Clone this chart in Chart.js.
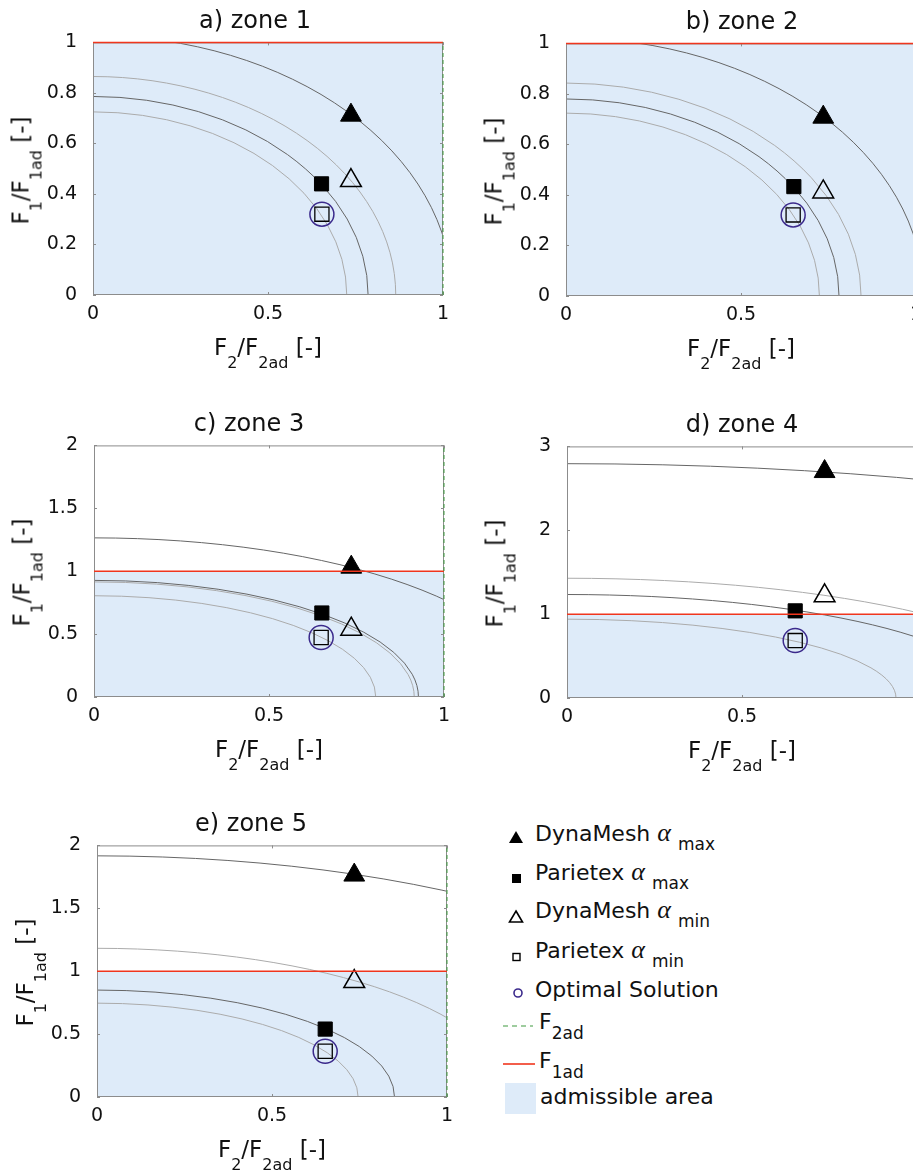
<!DOCTYPE html>
<html>
<head>
<meta charset="utf-8">
<script src="https://cdn.jsdelivr.net/npm/chart.js@4.4.0/dist/chart.umd.min.js"></script>
<style>
  html, body { margin: 0; padding: 0; background: #fff; }
  body { width: 913px; height: 1176px; overflow: hidden; position: relative;
         font-family: 'DejaVu Sans', sans-serif; color: #111; }
  canvas { position: absolute; }
  .title { position: absolute; width: 240px; font-size: 24px; line-height: 24px; text-align: center; white-space: nowrap; }
  .xlab { position: absolute; font-size: 23px; line-height: 23px; text-align: center; white-space: nowrap; }
  .ylab { position: absolute; width: 240px; font-size: 23px; line-height: 23px; text-align: center; white-space: nowrap;
          transform: rotate(-90deg); }
  .sb { position: relative; top: 13px; font-size: 16px; }
  .lrow { position: absolute; font-size: 22px; line-height: 22px; white-space: nowrap; }
  .lsb { position: relative; top: 9px; font-size: 17px; }
  .lsb2 { position: relative; top: 10px; font-size: 17px; }
  .alpha { font-family: 'Liberation Serif', serif; font-style: italic; font-size: 26px; }
  svg { position: absolute; left: 0; top: 0; }
</style>
</head>
<body>
<script>
// ---- data ----
const zoneTitles = ['a) zone 1', 'b) zone 2', 'c) zone 3', 'd) zone 4', 'e) zone 5'];
const yMaxes = [1, 1, 2, 3, 2];
const yTickSteps = [0.2, 0.2, 0.5, 1, 0.5];
const xTickStep = 0.5;

// F2/F2ad (x) and F1/F1ad (y) of each solution, per zone
const dynaMaxX = [0.737, 0.735, 0.735, 0.736, 0.735];
const dynaMaxY = [0.712, 0.708, 1.032, 2.700, 1.764];
const parMaxX  = [0.653, 0.651, 0.651, 0.652, 0.652];
const parMaxY  = [0.440, 0.433, 0.668, 1.039, 0.540];
const dynaMinX = [0.737, 0.735, 0.735, 0.736, 0.735];
const dynaMinY = [0.453, 0.412, 0.539, 1.219, 0.918];
const parMinX  = [0.654, 0.649, 0.649, 0.652, 0.652];
const parMinY  = [0.320, 0.321, 0.473, 0.685, 0.364];
const optX     = [0.654, 0.649, 0.649, 0.652, 0.652];
const optY     = [0.320, 0.321, 0.473, 0.685, 0.364];

// radius of the iso-curve through each solution
const arcDynaMax = [1.027, 1.022, 1.265, 2.794, 1.917];
const arcParMax  = [0.786, 0.780, 0.927, 1.234, 0.850];
const arcDynaMin = [0.865, 0.843, 0.915, 1.428, 1.182];
const arcParMin  = [0.725, 0.724, 0.805, 0.940, 0.746];

// admissible limits
const f1ad = 1;
const f2ad = 1;

// ---- layout (plot area of each subplot, page pixels) ----
const panels = [
  { L: 93,  T: 37,  R: 443, B: 295,  titleX: 255 },
  { L: 566, T: 38,  R: 916, B: 296,  titleX: 742 },
  { L: 94,  T: 440, R: 444, B: 697,  titleX: 249 },
  { L: 567, T: 441, R: 917, B: 698,  titleX: 742 },
  { L: 97,  T: 840, R: 447, B: 1097, titleX: 251 },
];
const YW = 70, XH = 44, PT = 14, PR = 16;

const colors = {
  fill: '#deebf9', red: '#f0361e', green: '#3f9a3f', optimal: '#3b2a8c',
  dark: '#666666', light: '#ababab', axis: '#8c8c8c', text: '#111'
};

// plain tick numbers: 0, 0.5, 1 (no trailing zeros)
const tickText = v => String(Number(v.toFixed(3)));

// iso-curves, axes box and inward ticks
const isoCurves = {
  id: 'isoCurves',
  beforeDatasetsDraw(chart, args, opts) {
    const { ctx, chartArea: a, scales: { x, y } } = chart;
    const x0 = x.getPixelForValue(0), y0 = y.getPixelForValue(0);
    ctx.save();
    ctx.beginPath();
    ctx.rect(a.left, a.top, a.right - a.left, a.bottom - a.top);
    ctx.clip();
    ctx.lineWidth = 1;
    opts.curves.forEach(c => {
      const rx = x.getPixelForValue(c.r) - x0;
      const ry = y0 - y.getPixelForValue(c.r);
      ctx.strokeStyle = c.color;
      ctx.beginPath();
      ctx.ellipse(x0, y0, rx, ry, 0, -Math.PI / 2, 0);
      ctx.stroke();
    });
    ctx.restore();

    ctx.save();
    ctx.strokeStyle = colors.axis;
    ctx.lineWidth = 1;
    ctx.strokeRect(a.left + 0.5, a.top + 0.5, a.right - a.left - 1, a.bottom - a.top - 1);
    const tl = 3;
    ctx.beginPath();
    x.ticks.forEach(t => {
      const px = Math.round(x.getPixelForValue(t.value)) + 0.5;
      ctx.moveTo(px, a.bottom); ctx.lineTo(px, a.bottom - tl);
      ctx.moveTo(px, a.top); ctx.lineTo(px, a.top + tl);
    });
    y.ticks.forEach(t => {
      const py = Math.round(y.getPixelForValue(t.value)) + 0.5;
      ctx.moveTo(a.left, py); ctx.lineTo(a.left + tl, py);
      ctx.moveTo(a.right, py); ctx.lineTo(a.right - tl, py);
    });
    ctx.stroke();
    ctx.restore();
  }
};

function addDiv(cls, html, style) {
  const d = document.createElement('div');
  d.className = cls;
  d.innerHTML = html;
  Object.assign(d.style, style);
  document.body.appendChild(d);
  return d;
}

function drawZone(i) {
  const p = panels[i];
  const w = p.R - p.L, h = p.B - p.T;
  const canvas = document.createElement('canvas');
  canvas.width = w + YW + PR;
  canvas.height = h + PT + XH;
  canvas.style.left = (p.L - YW) + 'px';
  canvas.style.top = (p.T - PT) + 'px';
  document.body.appendChild(canvas);

  const yMax = yMaxes[i];
  const tickFont = { family: 'DejaVu Sans', size: 19 };

  new Chart(canvas, {
    type: 'line',
    data: {
      datasets: [
        { label: 'admissible area', data: [{ x: 0, y: f1ad }, { x: f2ad, y: f1ad }],
          fill: 'origin', backgroundColor: colors.fill, borderWidth: 0, pointRadius: 0 },
        { label: 'F2ad', data: [{ x: f2ad, y: 0 }, { x: f2ad, y: yMax }],
          borderColor: colors.green, borderWidth: 1, borderDash: [4, 3], pointRadius: 0, clip: 4 },
        { label: 'F1ad', data: [{ x: 0, y: f1ad }, { x: f2ad, y: f1ad }],
          borderColor: colors.red, borderWidth: 1.5, pointRadius: 0, clip: 4 },
        { label: 'Optimal Solution', data: [{ x: optX[i], y: optY[i] }], showLine: false,
          pointStyle: 'circle', pointRadius: 12, borderColor: colors.optimal, borderWidth: 1.5,
          backgroundColor: 'rgba(0,0,0,0)' },
        { label: 'Parietex min', data: [{ x: parMinX[i], y: parMinY[i] }], showLine: false,
          pointStyle: 'rect', pointRadius: 10, borderColor: '#000', borderWidth: 1.3,
          backgroundColor: 'rgba(0,0,0,0)' },
        { label: 'DynaMesh min', data: [{ x: dynaMinX[i], y: dynaMinY[i] }], showLine: false,
          pointStyle: 'triangle', pointRadius: 12, borderColor: '#000', borderWidth: 1.5,
          backgroundColor: 'rgba(0,0,0,0)' },
        { label: 'Parietex max', data: [{ x: parMaxX[i], y: parMaxY[i] }], showLine: false,
          pointStyle: 'rect', pointRadius: 10, borderColor: '#000', borderWidth: 1,
          backgroundColor: '#000' },
        { label: 'DynaMesh max', data: [{ x: dynaMaxX[i], y: dynaMaxY[i] }], showLine: false,
          pointStyle: 'triangle', pointRadius: 12, borderColor: '#000', borderWidth: 1,
          backgroundColor: '#000' },
      ]
    },
    options: {
      responsive: false,
      animation: false,
      events: [],
      layout: { padding: { left: 0, top: PT, right: PR, bottom: 0 } },
      scales: {
        x: {
          type: 'linear', min: 0, max: 1,
          ticks: { stepSize: xTickStep, font: tickFont, color: colors.text, padding: 0, maxRotation: 0,
                   callback: tickText },
          grid: { display: false }, border: { display: false },
          afterFit: s => { s.height = XH; }
        },
        y: {
          type: 'linear', min: 0, max: yMax,
          ticks: { stepSize: yTickSteps[i], font: tickFont, color: colors.text, padding: 8,
                   callback: tickText },
          grid: { display: false }, border: { display: false },
          afterFit: s => { s.width = YW; }
        }
      },
      plugins: {
        legend: { display: false },
        tooltip: { enabled: false },
        filler: { drawTime: 'beforeDatasetsDraw' },
        isoCurves: {
          curves: [
            { r: arcDynaMax[i], color: colors.dark },
            { r: arcParMax[i], color: colors.dark },
            { r: arcDynaMin[i], color: colors.light },
            { r: arcParMin[i], color: colors.light },
          ]
        }
      }
    },
    plugins: [isoCurves]
  });

  addDiv('title', zoneTitles[i], { left: (p.titleX - 120) + 'px', top: (p.T - 29) + 'px' });
  addDiv('xlab', 'F<span class="sb">2</span>/F<span class="sb">2ad</span> [-]',
    { left: p.L + 'px', width: w + 'px', top: (p.B + 41) + 'px' });
  addDiv('ylab', 'F<span class="sb">1</span>/F<span class="sb">1ad</span> [-]',
    { left: (p.L - 71 - 120) + 'px', top: ((p.T + p.B) / 2 + 3 - 11.5) + 'px' });
}

zoneTitles.forEach((t, i) => drawZone(i));

// ---- legend ----
const legendRows = [
  { base: 841, x: 535, html: 'DynaMesh <span class="alpha">α</span> <span class="lsb">max</span>' },
  { base: 880, x: 535, html: 'Parietex <span class="alpha">α</span> <span class="lsb">max</span>' },
  { base: 918, x: 535, html: 'DynaMesh <span class="alpha">α</span> <span class="lsb">min</span>' },
  { base: 958, x: 535, html: 'Parietex <span class="alpha">α</span> <span class="lsb">min</span>' },
  { base: 998, x: 535, html: 'Optimal Solution' },
  { base: 1030, x: 539, html: 'F<span class="lsb2">2ad</span>' },
  { base: 1069, x: 539, html: 'F<span class="lsb2">1ad</span>' },
  { base: 1105, x: 540, html: 'admissible area' },
];
legendRows.forEach(r => addDiv('lrow', r.html, { left: r.x + 'px', top: (r.base - 18.6) + 'px' }));

const svgNS = 'http://www.w3.org/2000/svg';
const svg = document.createElementNS(svgNS, 'svg');
svg.setAttribute('width', 913);
svg.setAttribute('height', 1176);
svg.innerHTML = `
  <polygon points="516,831 523,843 509,843" fill="#000"/>
  <rect x="512" y="874" width="9" height="9" fill="#000"/>
  <polygon points="516,911 522.5,922 509.5,922" fill="none" stroke="#000" stroke-width="1.6"/>
  <rect x="513" y="953.5" width="7" height="7" fill="none" stroke="#000" stroke-width="1.4"/>
  <circle cx="518" cy="993" r="4" fill="none" stroke="${colors.optimal}" stroke-width="1.6"/>
  <line x1="503" y1="1026" x2="533" y2="1026" stroke="${colors.green}" stroke-width="1.2" stroke-dasharray="5,4"/>
  <line x1="503" y1="1064" x2="535" y2="1064" stroke="${colors.red}" stroke-width="1.6"/>
  <rect x="505" y="1083" width="31" height="31" fill="${colors.fill}"/>
`;
document.body.appendChild(svg);
</script>
</body>
</html>
